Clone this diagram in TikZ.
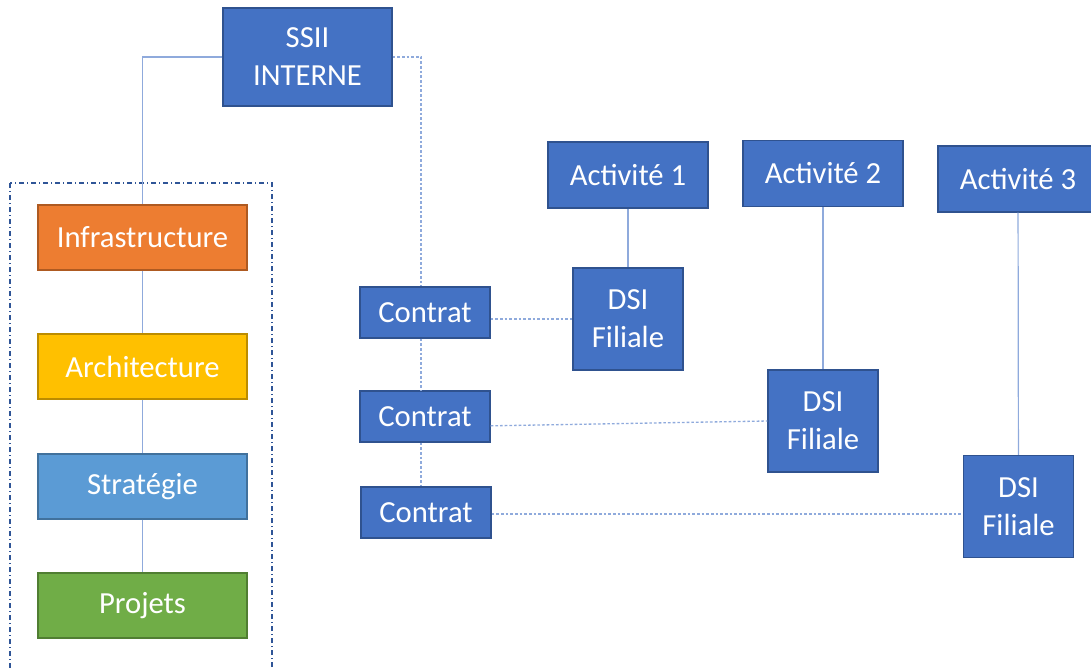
\documentclass[tikz,border=0pt]{standalone}
\usepackage{fontspec}
\setmainfont{Carlito}
\usepackage{tikz}

\definecolor{boxblue}{HTML}{4472C4}
\definecolor{boxblueline}{HTML}{2F528F}
\definecolor{infraorange}{HTML}{ED7D31}
\definecolor{infraline}{HTML}{AE5A21}
\definecolor{archyellow}{HTML}{FFC000}
\definecolor{archline}{HTML}{BC8C00}
\definecolor{stratblue}{HTML}{5B9BD5}
\definecolor{stratline}{HTML}{41719C}
\definecolor{projgreen}{HTML}{70AD47}
\definecolor{projline}{HTML}{507E32}
\definecolor{linkblue}{HTML}{8FAADC}
\definecolor{framblue}{HTML}{2F5597}

\tikzset{
  box/.style={draw=boxblueline, fill=boxblue, text=white, line width=1pt,
    inner sep=0pt, align=center, font=\fontsize{23}{28.5}\selectfont},
  layer/.style={box, minimum width=156.75pt, minimum height=48.75pt},
  contrat/.style={box, minimum width=97.5pt, minimum height=38.25pt},
  activite/.style={box, minimum width=120pt, minimum height=49.5pt},
  filiale/.style={box, minimum width=82.5pt, minimum height=76.5pt},
  link/.style={draw=linkblue, line width=0.9pt},
  contract link/.style={draw=linkblue, line width=1pt, dash pattern=on 2pt off 1.5pt},
}

\begin{document}
\begin{tikzpicture}[x=0.75pt, y=-0.75pt]
  \useasboundingbox (0,0) rectangle (1091,667);

  % Internal IT provider.
  \node[box, minimum width=126.75pt, minimum height=73.5pt] (ssii) at (307.5,57) {SSII\\INTERNE};

  % Service layers inside the dash-dotted frame.
  \draw[framblue, line width=0.9pt, dash pattern=on 4pt off 2pt on 1pt off 2pt] (10,183) rectangle (272,690);
  \node[layer, fill=infraorange, draw=infraline] (infra) at (142.5,237.5) {Infrastructure};
  \node[layer, fill=archyellow, draw=archline] (archi) at (142.5,366.5) {Architecture};
  \node[layer, fill=stratblue, draw=stratline] (strat) at (142.5,486.5) {Stratégie};
  \node[layer, fill=projgreen, draw=projline] (proj) at (142.5,605.5) {Projets};

  % Contracts.
  \node[contrat] (c1) at (425,312.5) {Contrat};
  \node[contrat] (c2) at (425,416.5) {Contrat};
  \node[contrat] (c3) at (426,512.5) {Contrat};

  % Business units and their IT departments.
  \node[activite] (act1) at (628,175) {Activité 1};
  \node[activite] (act2) at (823,173.5) {Activité 2};
  \node[activite] (act3) at (1018,179) {Activité 3};
  \node[filiale] (dsi1) at (628,319) {DSI\\Filiale};
  \node[filiale] (dsi2) at (823,421) {DSI\\Filiale};
  \node[filiale] (dsi3) at (1018.5,506.5) {DSI\\Filiale};

  % Solid links.
  \draw[link] (ssii.west) -| (infra.north);
  \draw[link] (infra) -- (archi);
  \draw[link] (archi) -- (strat);
  \draw[link] (strat) -- (proj);
  \draw[link] (act1) -- (dsi1);
  \draw[link] (act2) -- (dsi2);
  \draw[link] (act3) -- (dsi3);

  % Dotted contract links.
  \draw[contract link] (ssii.east) -| ([xshift=-3pt]c1.north);
  \draw[contract link] ([xshift=-3pt]c1.south) -- ([xshift=-3pt]c2.north);
  \draw[contract link] ([xshift=-3pt]c2.south) -- ([xshift=-3.75pt]c3.north);
  \draw[contract link] (dsi1.west -| c1.east) -- (dsi1.west);
  \draw[contract link] ([yshift=-7pt]c2.east) -- (dsi2.west);
  \draw[contract link] ([yshift=-1pt]c3.east) -- ([yshift=-1pt]c3.east -| dsi3.west);
\end{tikzpicture}
\end{document}
